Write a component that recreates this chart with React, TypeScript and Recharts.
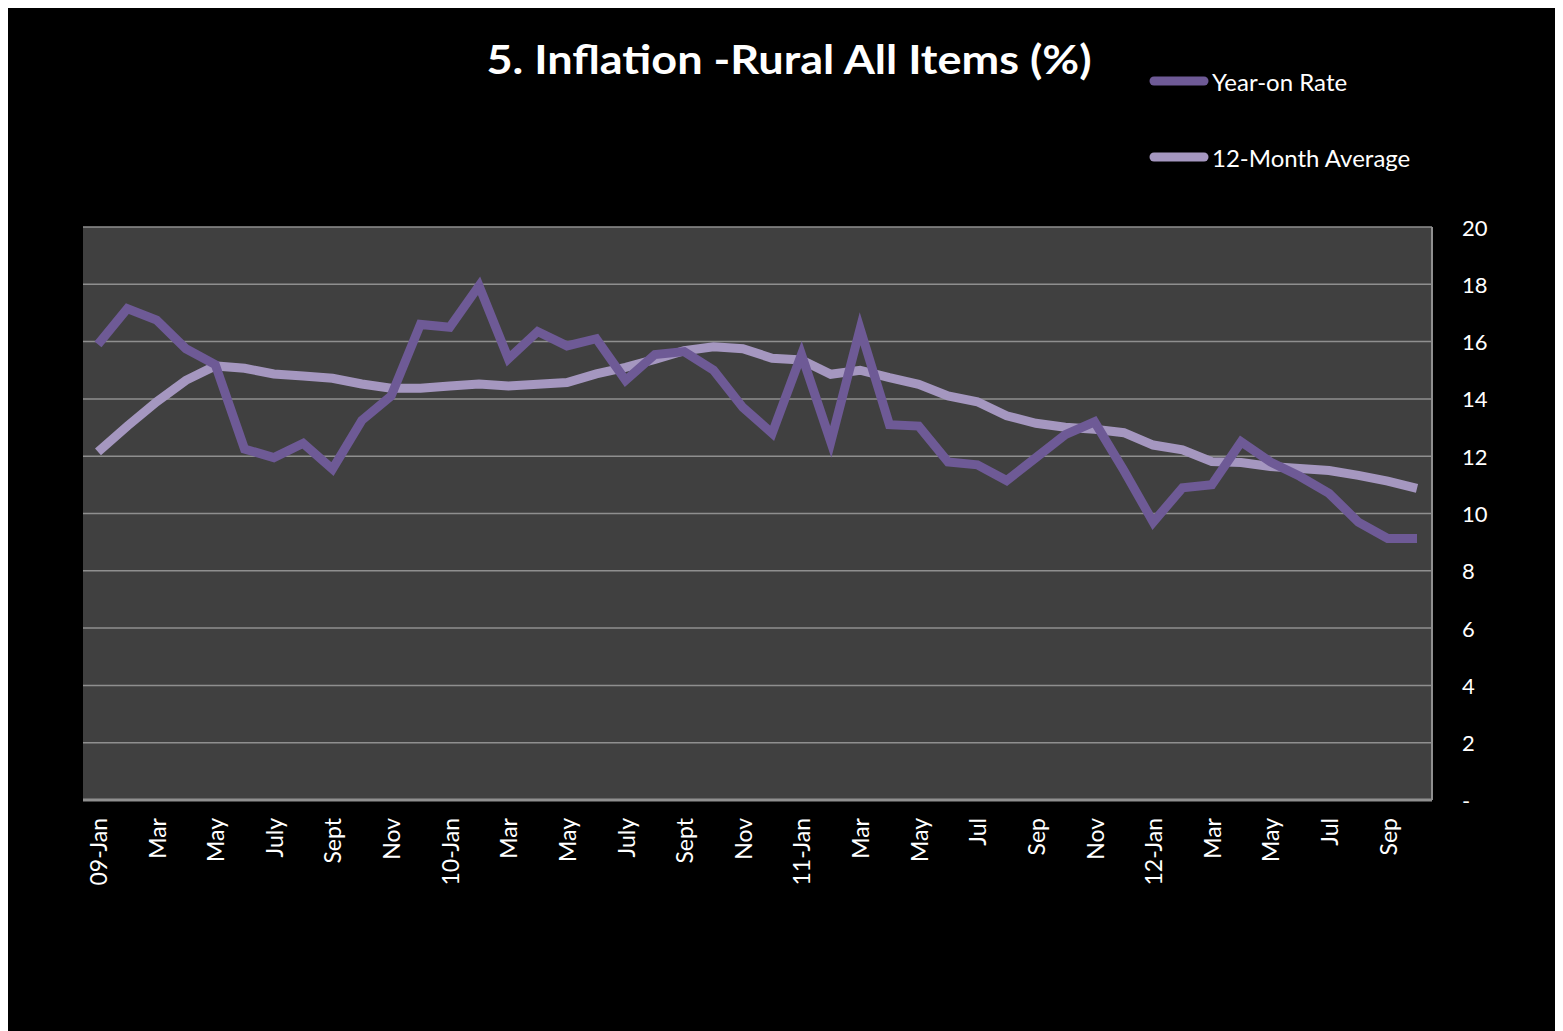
import React from 'react';
import { LineChart, Line, XAxis, YAxis, CartesianGrid } from 'recharts';

const months = [
  '09-Jan', 'Feb', 'Mar', 'Apr', 'May', 'Jun', 'July', 'Aug', 'Sept', 'Oct', 'Nov', 'Dec',
  '10-Jan', 'Feb', 'Mar', 'Apr', 'May', 'Jun', 'July', 'Aug', 'Sept', 'Oct', 'Nov', 'Dec',
  '11-Jan', 'Feb', 'Mar', 'Apr', 'May', 'Jun', 'Jul', 'Aug', 'Sep', 'Oct', 'Nov', 'Dec',
  '12-Jan', 'Feb', 'Mar', 'Apr', 'May', 'Jun', 'Jul', 'Aug', 'Sep', 'Oct',
];

const yearOnRate = [
  15.9, 17.15, 16.75, 15.75, 15.2, 12.25, 11.95, 12.45, 11.55, 13.25, 14.1, 16.6,
  16.5, 17.95, 15.4, 16.35, 15.85, 16.1, 14.65, 15.55, 15.65, 15.0, 13.7, 12.8,
  15.55, 12.5, 16.45, 13.1, 13.05, 11.8, 11.7, 11.15, 11.95, 12.75, 13.2, 11.5,
  9.7, 10.9, 11.0, 12.5, 11.8, 11.3, 10.7, 9.7, 9.13, 9.13,
];

const twelveMonthAvg = [
  12.15, 13.05, 13.9, 14.65, 15.15, 15.07, 14.87, 14.8, 14.72, 14.52, 14.37, 14.37,
  14.45, 14.52, 14.45, 14.51, 14.57, 14.87, 15.1, 15.38, 15.68, 15.82, 15.75, 15.42,
  15.36, 14.86, 15.0, 14.74, 14.51, 14.1, 13.9, 13.41, 13.15, 13.01, 12.94, 12.82,
  12.39, 12.22, 11.81, 11.78, 11.64, 11.57, 11.5, 11.33, 11.13, 10.88,
];

const yTicks = [0, 2, 4, 6, 8, 10, 12, 14, 16, 18, 20];

const seriesNames = ['Year-on Rate', '12-Month Average'];

const DARK = '#6e5a96';
const LIGHT = '#a597c0';
const FONT = 'Lato, "Open Sans", sans-serif';

const data = months.map((m, i) => ({
  month: m,
  yoy: yearOnRate[i],
  avg: twelveMonthAvg[i],
}));

const XTick = (props: any) => {
  const { x, y, payload } = props;
  return (
    <text
      transform={`translate(${x},${y + 18}) rotate(-90)`}
      textAnchor="end"
      dominantBaseline="central"
      fill="#ffffff"
      fontSize={23}
      fontFamily={FONT}
    >
      {payload.value}
    </text>
  );
};

const YTick = (props: any) => {
  const { x, y, payload } = props;
  return (
    <text x={x} y={y} textAnchor="start" dominantBaseline="central" fill="#ffffff" fontSize={22} fontFamily={FONT}>
      {payload.value === 0 ? '-' : payload.value}
    </text>
  );
};

// legend drawn outside recharts so it doesn't eat into the plot area
const LegendBox = () => {
  const colors = [DARK, LIGHT];
  return (
    <div style={{ position: 'absolute', left: 1140, top: 35 }}>
      {seriesNames.map((name, i) => (
        <div key={name} style={{ display: 'flex', alignItems: 'center', height: 76 }}>
          <svg width={62} height={12} style={{ display: 'block' }}>
            <line x1={6} y1={6} x2={56} y2={6} stroke={colors[i]} strokeWidth={9} strokeLinecap="round" />
          </svg>
          <span style={{ color: '#ffffff', fontSize: 24, fontFamily: FONT, marginLeft: 2 }}>{name}</span>
        </div>
      ))}
    </div>
  );
};

export default function App() {
  return (
    <div style={{ position: 'relative', width: 1555, height: 1023, background: '#000000' }}>
      <svg width={1555} height={120} style={{ position: 'absolute', left: 0, top: 0 }}>
        <text
          x={781}
          y={66}
          textAnchor="middle"
          fill="#ffffff"
          fontSize={41}
          fontWeight={700}
          fontFamily={FONT}
          textLength={605}
          lengthAdjust="spacingAndGlyphs"
        >
          5. Inflation -Rural All Items (%)
        </text>
      </svg>
      <LegendBox />
      <LineChart
        width={1555}
        height={1023}
        data={data}
        margin={{ top: 219, right: 31, left: 75, bottom: 111 }}
        style={{ position: 'absolute', left: 0, top: 0 }}
      >
        <CartesianGrid vertical={false} fill="#404040" stroke="#8f8f8f" strokeWidth={1.5} />
        <XAxis
          dataKey="month"
          interval={1}
          padding={{ left: 15, right: 15 }}
          height={120}
          tickSize={0}
          tickMargin={0}
          tick={<XTick />}
          axisLine={{ stroke: '#8f8f8f', strokeWidth: 3 }}
        />
        <YAxis
          orientation="right"
          domain={[0, 20]}
          ticks={yTicks}
          width={100}
          tickSize={0}
          tickMargin={30}
          tick={<YTick />}
          axisLine={{ stroke: '#8f8f8f', strokeWidth: 2 }}
          tickLine={false}
        />
        <Line
          dataKey="avg"
          name={seriesNames[1]}
          stroke={LIGHT}
          strokeWidth={9}
          dot={false}
          isAnimationActive={false}
        />
        <Line
          dataKey="yoy"
          name={seriesNames[0]}
          stroke={DARK}
          strokeWidth={9}
          dot={false}
          isAnimationActive={false}
        />
      </LineChart>
    </div>
  );
}
